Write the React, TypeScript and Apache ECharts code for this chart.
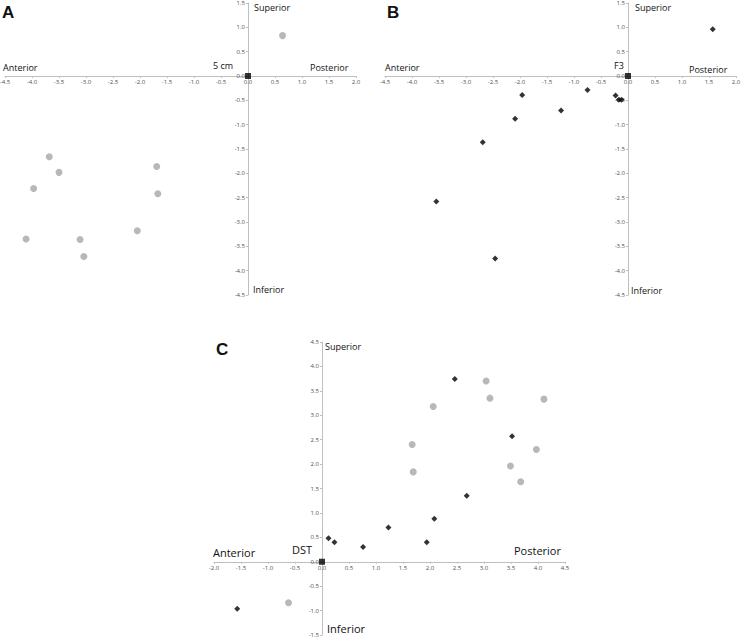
import React, { useEffect, useRef } from "react";
import * as echarts from "echarts";

// Panel A: grey circles (5 cm)
const panelAGreyX = [0.64, -3.68, -3.5, -3.97, -4.11, -3.11, -3.04, -2.05, -1.69, -1.67];
const panelAGreyY = [0.83, -1.66, -1.98, -2.31, -3.35, -3.36, -3.71, -3.18, -1.86, -2.42];

// Panel B: black diamonds (F3)
const panelBBlackX = [1.57, -1.96, -0.75, -0.23, -0.17, -0.12, -1.24, -2.09, -2.69, -3.55, -2.46];
const panelBBlackY = [0.96, -0.39, -0.29, -0.4, -0.49, -0.49, -0.71, -0.88, -1.36, -2.58, -3.75];

// Panel C: black diamonds and grey circles (DST)
const panelCBlackX = [2.46, 3.52, 2.68, 2.08, 1.23, 1.94, 0.12, 0.23, 0.76, -1.57];
const panelCBlackY = [3.74, 2.57, 1.35, 0.88, 0.7, 0.4, 0.48, 0.4, 0.3, -0.96];
const panelCGreyX = [3.04, 3.11, 4.11, 2.06, 1.67, 3.97, 3.49, 1.69, 3.68, -0.62];
const panelCGreyY = [3.7, 3.35, 3.33, 3.18, 2.4, 2.3, 1.96, 1.84, 1.64, -0.84];

// Axis ranges
const rangeAX = [-4.5, 2];
const rangeAY = [-4.5, 1.5];
const rangeCX = [-2, 4.5];
const rangeCY = [-1.5, 4.5];

const origin = [[0, 0]];

const zip = (xs: number[], ys: number[]) => xs.map((x, i) => [x, ys[i]]);

const FONT = "Open Sans";
const GREY = "#a6a6a6";

const grids = [
  { left: 5, top: 3, width: 351, height: 292, outerBoundsMode: "none", containLabel: false },
  { left: 385, top: 3, width: 351, height: 292, outerBoundsMode: "none", containLabel: false },
  { left: 214, top: 342, width: 351, height: 293, outerBoundsMode: "none", containLabel: false },
];

export default function App() {
  const ref = useRef<HTMLDivElement>(null);
  useEffect(() => {
    if (!ref.current) return;
    const chart = echarts.init(ref.current, undefined, { renderer: "svg" });

    const axisCommon = {
      type: "value" as const,
      interval: 0.5,
      splitLine: { show: false },
      axisLine: { onZero: false, lineStyle: { color: "#bfbfbf", width: 1 } },
      axisTick: { show: true, length: 2, lineStyle: { color: "#bfbfbf" } },
      axisLabel: {
        fontSize: 6,
        color: "#505050",
        fontFamily: FONT,
        margin: 3,
        showMinLabel: true,
        showMaxLabel: true,
        formatter: (v: number) => v.toFixed(1),
      },
    };

    // offset the axes inward so that they cross at the zero of the other axis
    const xAxisAt = (gi: number, xr: number[], yr: number[]) => {
      const g = grids[gi];
      const fromBottom = ((0 - yr[0]) / (yr[1] - yr[0])) * g.height;
      return { ...axisCommon, gridIndex: gi, min: xr[0], max: xr[1], position: "bottom", offset: -fromBottom };
    };
    const yAxisAt = (gi: number, xr: number[], yr: number[]) => {
      const g = grids[gi];
      const fromLeft = ((0 - xr[0]) / (xr[1] - xr[0])) * g.width;
      return { ...axisCommon, gridIndex: gi, min: yr[0], max: yr[1], position: "left", offset: -fromLeft };
    };

    const txt = (x: number, y: number, text: string, size: number, bold = false) => ({
      type: "text",
      left: x,
      top: y,
      style: {
        text,
        fontSize: size,
        fontFamily: bold ? "Liberation Sans" : FONT,
        fontWeight: bold ? "bold" : "normal",
        fill: "#111",
      },
    });

    const originSeries = (i: number) => ({
      type: "scatter",
      xAxisIndex: i,
      yAxisIndex: i,
      symbol: "rect",
      symbolSize: 6,
      itemStyle: { color: "#000" },
      data: origin,
      z: 5,
    });

    chart.setOption({
      animation: false,
      backgroundColor: "#fff",
      grid: grids,
      xAxis: [xAxisAt(0, rangeAX, rangeAY), xAxisAt(1, rangeAX, rangeAY), xAxisAt(2, rangeCX, rangeCY)],
      yAxis: [yAxisAt(0, rangeAX, rangeAY), yAxisAt(1, rangeAX, rangeAY), yAxisAt(2, rangeCX, rangeCY)],
      series: [
        {
          type: "scatter",
          xAxisIndex: 0,
          yAxisIndex: 0,
          symbol: "circle",
          symbolSize: 7,
          itemStyle: { color: GREY },
          data: zip(panelAGreyX, panelAGreyY),
        },
        originSeries(0),
        {
          type: "scatter",
          xAxisIndex: 1,
          yAxisIndex: 1,
          symbol: "diamond",
          symbolSize: 6,
          itemStyle: { color: "#000" },
          data: zip(panelBBlackX, panelBBlackY),
        },
        originSeries(1),
        {
          type: "scatter",
          xAxisIndex: 2,
          yAxisIndex: 2,
          symbol: "circle",
          symbolSize: 7,
          itemStyle: { color: GREY },
          data: zip(panelCGreyX, panelCGreyY),
        },
        {
          type: "scatter",
          xAxisIndex: 2,
          yAxisIndex: 2,
          symbol: "diamond",
          symbolSize: 6,
          itemStyle: { color: "#000" },
          data: zip(panelCBlackX, panelCBlackY),
        },
        originSeries(2),
      ],
      graphic: [
        // Panel A
        txt(2, 4, "A", 17, true),
        txt(254, 3, "Superior", 9),
        txt(3, 63, "Anterior", 9),
        txt(213, 61, "5 cm", 9),
        txt(310, 63, "Posterior", 9),
        txt(253, 285, "Inferior", 9),
        // Panel B
        txt(387, 4, "B", 17, true),
        txt(635, 3, "Superior", 9),
        txt(385, 63, "Anterior", 9),
        txt(614, 61, "F3", 9),
        txt(689, 65, "Posterior", 9),
        txt(631, 286, "Inferior", 9),
        // Panel C
        txt(216, 341, "C", 17, true),
        txt(325, 342, "Superior", 9),
        txt(213, 547, "Anterior", 11),
        txt(292, 544, "DST", 11),
        txt(514, 545, "Posterior", 11),
        txt(327, 623, "Inferior", 11),
      ],
    });
    return () => chart.dispose();
  }, []);
  return (
    <div
      ref={ref}
      style={{ position: "fixed", left: 0, top: 0, width: 741, height: 638, background: "#fff" }}
    />
  );
}
